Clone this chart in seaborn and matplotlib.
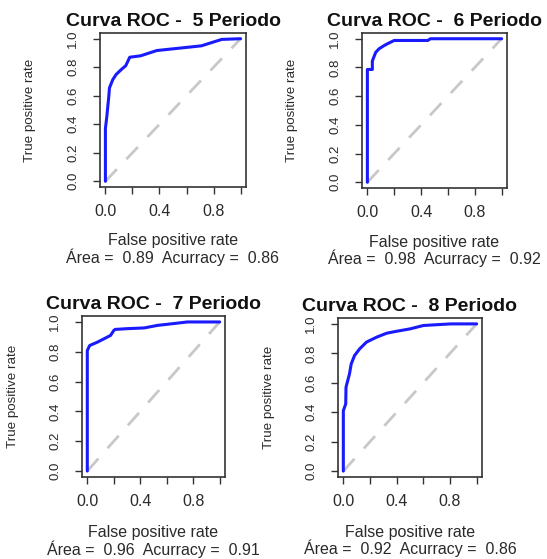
import numpy as np
import pandas as pd
import matplotlib as mpl
import matplotlib.pyplot as plt
import seaborn as sns

sns.set_style("white")
mpl.rcParams['font.family'] = ['Liberation Sans', 'DejaVu Sans']

# curvas ROC (taxa de falsos positivos, taxa de verdadeiros positivos)
fpr_5 = [0.0, 0.0, 0.01, 0.025, 0.03, 0.055, 0.08, 0.12, 0.15, 0.18, 0.26, 0.38, 0.51, 0.61, 0.71, 0.81, 0.86, 1.0]
tpr_5 = [0.0, 0.37, 0.45, 0.595, 0.655, 0.714, 0.75, 0.786, 0.81, 0.87, 0.88, 0.917, 0.93, 0.94, 0.95, 0.98, 0.995, 1.0]

fpr_6 = [0.0, 0.0, 0.037, 0.037, 0.062, 0.087, 0.124, 0.16, 0.2, 0.45, 0.47, 1.0]
tpr_6 = [0.0, 0.786, 0.786, 0.845, 0.905, 0.93, 0.952, 0.97, 0.988, 0.988, 1.0, 1.0]

fpr_7 = [0.0, 0.0, 0.018, 0.075, 0.126, 0.176, 0.2, 0.21, 0.3, 0.43, 0.53, 0.65, 0.755, 1.0]
tpr_7 = [0.0, 0.808, 0.842, 0.864, 0.887, 0.91, 0.943, 0.95, 0.955, 0.96, 0.977, 0.989, 1.0, 1.0]

fpr_8 = [0.0, 0.0, 0.018, 0.02, 0.046, 0.059, 0.084, 0.122, 0.173, 0.25, 0.326, 0.4, 0.5, 0.6, 0.71, 0.81, 1.0]
tpr_8 = [0.0, 0.41, 0.457, 0.57, 0.66, 0.728, 0.785, 0.83, 0.876, 0.91, 0.937, 0.95, 0.966, 0.989, 0.995, 1.0, 1.0]

periodos = [5, 6, 7, 8]
areas = [0.89, 0.98, 0.96, 0.92]
acuracias = [0.86, 0.92, 0.91, 0.86]
curvas = [(fpr_5, tpr_5), (fpr_6, tpr_6), (fpr_7, tpr_7), (fpr_8, tpr_8)]

W, H = 547, 559
# posição dos painéis em pixels: esquerda, direita, topo, base
caixas = [(100, 246, 33, 187), (362, 507, 33, 188), (82, 225, 316, 477), (338, 482, 318, 477)]

fig = plt.figure(figsize=(W / 100, H / 100), dpi=100)
txt = '#2a2a2a'

for (x0, x1, y0, y1), per, area, acc, (fpr, tpr) in zip(caixas, periodos, areas, acuracias, curvas):
    ax = fig.add_axes([x0 / W, (H - y1) / H, (x1 - x0) / W, (y1 - y0) / H])
    ax.plot([0, 1], [0, 1], color='#c8c8c8', lw=2, dashes=(6, 5))
    sns.lineplot(x=fpr, y=tpr, ax=ax, sort=False, estimator=None, color='#1a1aff', lw=2.2)
    ax.set_xlim(-0.04, 1.04)
    ax.set_ylim(-0.04, 1.04)
    ax.set_xticks([0, 0.2, 0.4, 0.6, 0.8, 1.0])
    ax.set_xticklabels(['0.0', '', '0.4', '', '0.8', ''])
    ax.set_yticks([0, 0.2, 0.4, 0.6, 0.8, 1.0])
    ax.set_yticklabels(['0.0', '0.2', '0.4', '0.6', '0.8', '1.0'], rotation=90, va='center')
    ax.tick_params(direction='out', length=5, width=1, color='#333333',
                   labelcolor=txt, bottom=True, left=True)
    ax.tick_params(axis='x', pad=7, labelsize=11.5)
    ax.tick_params(axis='y', pad=10, labelsize=9.5)
    for s in ax.spines.values():
        s.set_color('#333333')
        s.set_linewidth(1.2)
    ax.set_title(f'Curva ROC -  {per} Periodo', fontsize=14, fontweight='bold', color='#111111', pad=5)
    ax.set_ylabel('True positive rate', fontsize=9.6, color=txt)
    ax.yaxis.set_label_coords(-0.44, 0.5)
    ax.set_xlabel(f'False positive rate\nÁrea =  {area:.2f}  Acurracy =  {acc:.2f}',
                  fontsize=11.5, color=txt, linespacing=1.0)
    ax.xaxis.set_label_coords(0.5, -0.30)

fig.savefig('out.png', dpi=100, facecolor='white')
